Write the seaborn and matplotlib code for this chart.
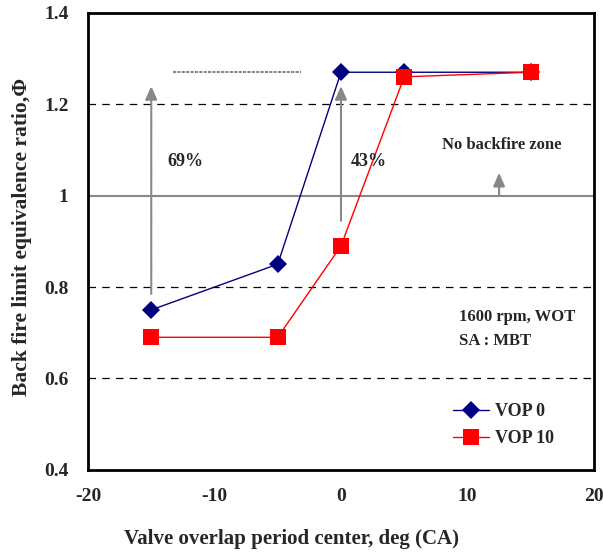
import pandas as pd
import matplotlib
matplotlib.use("Agg")
import matplotlib.pyplot as plt
import seaborn as sns

# Datos
vop_centro = [-15, -5, 0, 5, 15]
vop0 = [0.75, 0.85, 1.27, 1.27, 1.27]
vop10 = [0.69, 0.69, 0.89, 1.26, 1.27]

sns.set_style("white")
plt.rcParams["font.family"] = ["Liberation Serif", "DejaVu Serif"]
plt.rcParams["font.weight"] = "bold"
plt.rcParams["axes.unicode_minus"] = False

fig = plt.figure(figsize=(6.03, 5.58), dpi=100)
ax = fig.add_axes([0.146, 0.158, 0.839, 0.819])

# Lineas de referencia
for yv in [0.6, 0.8, 1.2]:
    ax.axhline(yv, color="black", lw=0.9, ls=(0, (6, 5)), zorder=1)
ax.axhline(1.0, color="#888888", lw=1.5, zorder=1)

# Series
sns.lineplot(x=vop_centro, y=vop0, color="#000080", marker="D", markersize=9,
             markeredgewidth=0, lw=1.0, label="VOP 0", ax=ax, zorder=3)
sns.lineplot(x=vop_centro, y=vop10, color="#FF0000", marker="s", markersize=11.5,
             markeredgewidth=0, lw=1.0, label="VOP 10", ax=ax, zorder=3)

# Flechas y anotaciones
flecha = dict(arrowstyle="-|>,head_width=0.35,head_length=0.8", color="#888888",
              lw=1.5, ls=(0, (1.5, 0.6)), shrinkA=0, shrinkB=0)
ax.annotate("", xy=(-15, 1.24), xytext=(-15, 0.785), arrowprops=flecha)
ax.annotate("", xy=(0, 1.24), xytext=(0, 0.945), arrowprops=flecha)
ax.annotate("", xy=(12.5, 1.05), xytext=(12.5, 1.0),
            arrowprops=dict(arrowstyle="-|>,head_width=0.35,head_length=0.8",
                            color="#888888", lw=1.5, shrinkA=0, shrinkB=0))
ax.plot([-13.3, -3.2], [1.27, 1.27], color="#888888", lw=1.5, ls=(0, (1.5, 0.6)), zorder=2)

ax.text(-13.7, 1.075, "69%", fontsize=13, fontweight="bold", va="center")
ax.text(0.8, 1.075, "43%", fontsize=13, fontweight="bold", va="center")
ax.text(12.7, 1.11, "No backfire zone", fontsize=12, fontweight="bold", ha="center", va="center")
ax.text(9.3, 0.735, "1600 rpm, WOT", fontsize=12, fontweight="bold", va="center")
ax.text(9.3, 0.682, "SA : MBT", fontsize=12, fontweight="bold", va="center")

ax.set_xlim(-20, 20)
ax.set_ylim(0.4, 1.4)
ax.set_xticks([-20, -10, 0, 10, 20])
ax.set_yticks([0.4, 0.6, 0.8, 1.0, 1.2, 1.4])
ax.set_yticklabels(["0.4", "0.6", "0.8", "1", "1.2", "1.4"])
ax.tick_params(axis="x", direction="in", length=5, width=1, pad=13, labelsize=14)
ax.tick_params(axis="y", length=0, pad=14, labelsize=14)
for s in ax.spines.values():
    s.set_linewidth(2)
    s.set_color("black")

ax.set_xlabel("Valve overlap period center, deg (CA)", fontsize=15, fontweight="bold")
ax.set_ylabel("Back fire limit equivalence ratio,Φ", fontsize=15.5, fontweight="bold")
ax.xaxis.set_label_coords(0.403, -0.13)
ax.yaxis.set_label_coords(-0.11, 0.51)

leg = ax.legend(loc="center left", bbox_to_anchor=(0.69, 0.098), frameon=False,
                fontsize=13, handlelength=2.0, handletextpad=0.3, labelspacing=0.55)
for t in leg.get_texts():
    t.set_fontweight("bold")

fig.savefig("out.png", dpi=100)
